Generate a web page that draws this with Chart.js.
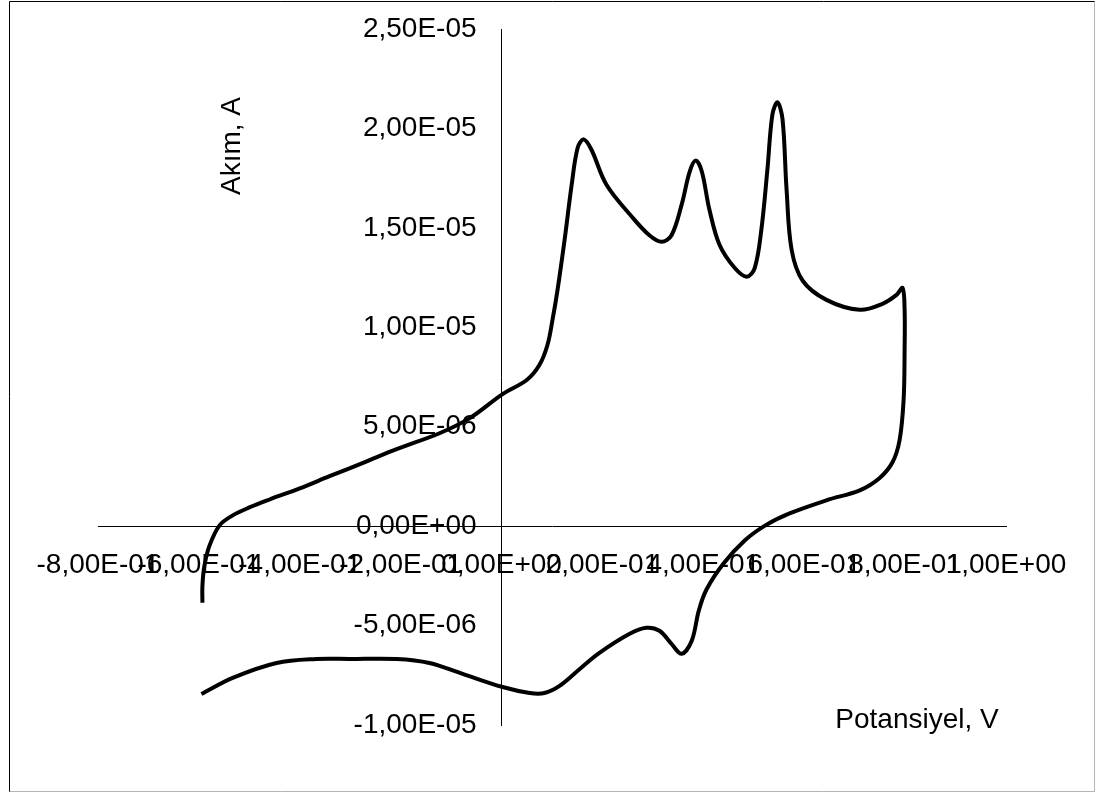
<!DOCTYPE html>
<html>
<head>
    <title>Akım - Potansiyel</title>
    <script src="https://cdn.jsdelivr.net/npm/chart.js"></script>
    <style>
        body { margin: 0; background: #fff; }
    </style>
</head>
<body>
    <canvas id="cvChart" width="1097" height="793"></canvas>

    <script>
        // potential (V) and current (in 1e-6 A)
        const potential = [
            -0.593, -0.593, -0.589, -0.579, -0.559, -0.533, -0.500, -0.460, -0.400, -0.341,
            -0.272, -0.208, -0.123, -0.063, 0.002, 0.050, 0.075, 0.091, 0.101, 0.111,
            0.125, 0.139, 0.151, 0.163, 0.178, 0.208, 0.260, 0.293, 0.317, 0.337,
            0.357, 0.373, 0.385, 0.397, 0.412, 0.432, 0.462, 0.486, 0.502, 0.515,
            0.527, 0.537, 0.547, 0.557, 0.565, 0.575, 0.597, 0.644, 0.710, 0.755,
            0.783, 0.795, 0.799, 0.799, 0.797, 0.789, 0.775, 0.749, 0.710, 0.644,
            0.571, 0.523, 0.482, 0.440, 0.406, 0.391, 0.377, 0.357, 0.337, 0.313,
            0.287, 0.254, 0.194, 0.155, 0.115, 0.085, 0.056, 0.002, -0.077, -0.143,
            -0.208, -0.301, -0.367, -0.446, -0.533, -0.595
        ];
        const currentMicro = [
            -3.85, -3.0, -1.99, -0.98, 0.04, 0.54, 0.94, 1.34, 1.90, 2.51,
            3.21, 3.87, 4.67, 5.43, 6.64, 7.35, 8.10, 9.11, 10.37, 11.88,
            14.40, 17.17, 19.04, 19.45, 18.94, 17.17, 15.51, 14.63, 14.30, 14.63,
            16.17, 17.83, 18.39, 17.83, 15.92, 14.15, 12.99, 12.54, 12.99, 14.90,
            17.93, 20.71, 21.31, 20.46, 16.93, 13.90, 12.34, 11.38, 10.88, 11.18,
            11.63, 11.98, 10.87, 8.86, 6.34, 4.32, 3.21, 2.41, 1.80, 1.30,
            0.64, 0.04, -0.72, -1.88, -3.20, -4.25, -5.76, -6.42, -5.92, -5.26,
            -5.11, -5.41, -6.37, -7.18, -8.03, -8.39, -8.39, -8.09, -7.43, -6.88,
            -6.68, -6.68, -6.68, -6.88, -7.63, -8.44
        ];

        const xTickValues = [-0.8, -0.6, -0.4, -0.2, 0, 0.2, 0.4, 0.6, 0.8, 1.0];
        const xTickLabels = ['-8,00E-01', '-6,00E-01', '-4,00E-01', '-2,00E-01', '0,00E+00',
                             '2,00E-01', '4,00E-01', '6,00E-01', '8,00E-01', '1,00E+00'];
        const yTickValues = [-1e-5, -5e-6, 0, 5e-6, 1e-5, 1.5e-5, 2e-5, 2.5e-5];
        const yTickLabels = ['-1,00E-05', '-5,00E-06', '0,00E+00', '5,00E-06',
                             '1,00E-05', '1,50E-05', '2,00E-05', '2,50E-05'];

        const xTitle = 'Potansiyel, V';
        const yTitle = 'Akım, A';
        const fontFamily = '"Liberation Sans", Arial, sans-serif';
        const fontSize = 28;
        const yLabelGap = 25;   // space between the y labels and the axis line

        // chart.js ignores tick padding for an axis placed at a value,
        // so push the y labels left once they are laid out
        const yLabelShift = {
            id: 'yLabelShift',
            beforeDraw(chart) {
                const items = chart.scales.y.getLabelItems(chart.chartArea);
                if (items._shifted) return;
                items.forEach(it => { it.options.translation[0] -= yLabelGap; });
                items._shifted = true;
            }
        };

        // frame round the whole chart plus the two free-standing axis titles
        const framePlugin = {
            id: 'frameAndTitles',
            afterDraw(chart) {
                const ctx = chart.ctx;
                ctx.save();
                ctx.lineWidth = 1;
                ctx.strokeStyle = '#000';
                ctx.beginPath();
                ctx.moveTo(9.5, 792);
                ctx.lineTo(9.5, 1.5);
                ctx.lineTo(1095, 1.5);
                ctx.stroke();
                ctx.strokeStyle = '#b4b4b4';
                ctx.beginPath();
                ctx.moveTo(1094.5, 1.5);
                ctx.lineTo(1094.5, 791.5);
                ctx.lineTo(9.5, 791.5);
                ctx.stroke();

                ctx.fillStyle = '#000';
                ctx.font = fontSize + 'px ' + fontFamily;
                ctx.textAlign = 'center';
                ctx.textBaseline = 'middle';
                ctx.fillText(xTitle, 917, 720);
                ctx.translate(232, 146);
                ctx.rotate(-Math.PI / 2);
                ctx.fillText(yTitle, 0, 0);
                ctx.restore();
            }
        };

        const ctx = document.getElementById('cvChart').getContext('2d');
        new Chart(ctx, {
            type: 'scatter',
            data: {
                datasets: [{
                    data: potential.map((x, i) => ({ x: x, y: currentMicro[i] * 1e-6 })),
                    showLine: true,
                    borderColor: '#000',
                    borderWidth: 4,
                    pointRadius: 0,
                    tension: 0.35,
                    fill: false
                }]
            },
            options: {
                responsive: false,
                animation: false,
                layout: { padding: { left: 98, right: 91, top: 29, bottom: 68 } },
                plugins: {
                    legend: { display: false },
                    tooltip: { enabled: false }
                },
                scales: {
                    x: {
                        type: 'linear',
                        position: { y: 0 },
                        min: -0.8,
                        max: 1.0,
                        afterFit: s => { s.height = 0; },
                        afterBuildTicks: s => { s.ticks = xTickValues.map(v => ({ value: v })); },
                        grid: { drawOnChartArea: false, drawTicks: false },
                        border: { display: true, color: '#000', width: 1 },
                        ticks: {
                            autoSkip: false,
                            maxRotation: 0,
                            minRotation: 0,
                            padding: 22,
                            color: '#000',
                            font: { family: fontFamily, size: fontSize },
                            callback: (v, i) => xTickLabels[i]
                        }
                    },
                    y: {
                        type: 'linear',
                        position: { x: 0 },
                        min: -1e-5,
                        max: 2.5e-5,
                        afterFit: s => { s.width = 0; },
                        afterBuildTicks: s => { s.ticks = yTickValues.map(v => ({ value: v })); },
                        grid: { drawOnChartArea: false, drawTicks: false },
                        border: { display: true, color: '#000', width: 1 },
                        ticks: {
                            autoSkip: false,
                            color: '#000',
                            font: { family: fontFamily, size: fontSize },
                            callback: (v, i) => yTickLabels[i]
                        }
                    }
                }
            },
            plugins: [yLabelShift, framePlugin]
        });
    </script>
</body>
</html>
